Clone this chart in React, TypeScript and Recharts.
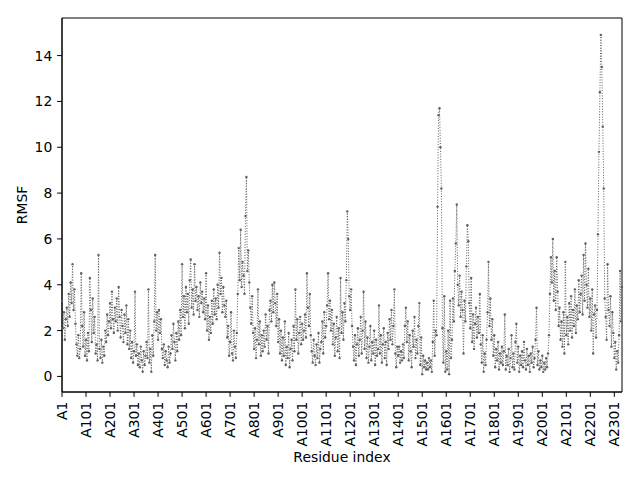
import { LineChart, Line, XAxis, YAxis, Label, ReferenceArea } from "recharts";

// one RMSF value every 4 residues
const residueStep = 4;

const rmsf = [
  3.3, 2.1, 2.8, 1.6, 2.5, 3.0, 2.2, 3.6, 2.6, 4.1,
  3.2, 4.9, 2.9, 3.8, 2.3, 1.4, 0.9, 1.8, 0.8, 1.2,
  4.5, 2.2, 1.3, 2.8, 0.9, 1.6, 0.7, 1.9, 1.1, 4.3,
  2.9, 1.5, 3.4, 1.9, 2.6, 1.0, 1.4, 0.7, 5.3, 1.2,
  0.8, 1.6, 0.6, 1.3, 0.9, 2.0, 1.5, 2.7, 1.8, 2.4,
  3.2, 2.1, 3.7, 2.5, 1.9, 3.0, 2.4, 3.4, 2.0, 3.9,
  2.6, 1.7, 2.9, 2.2, 1.5, 2.7, 1.9, 3.1, 1.4, 2.5,
  1.2, 2.0, 0.8, 1.5, 0.6, 1.1, 3.7, 0.9, 1.4, 0.5,
  1.0, 0.4, 1.3, 0.7, 0.2, 1.1, 0.5, 0.9, 1.5, 0.8,
  3.8, 0.6, 1.2, 0.2, 1.8, 0.9, 2.4, 5.3, 2.0, 2.8,
  1.6, 2.9, 1.9, 2.5, 1.2, 0.8, 1.4, 0.5, 1.1, 0.7,
  0.4, 1.3, 0.6, 1.0, 1.8, 1.2, 2.3, 1.5, 0.7, 1.9,
  1.1, 2.4, 1.6, 2.9, 1.8, 4.9, 2.6, 3.5, 2.1, 3.9,
  2.8, 3.6, 2.3, 4.2, 5.1, 3.0, 3.8, 2.7, 4.9, 3.3,
  3.9, 2.9, 3.5, 2.6, 4.1, 3.2, 3.7, 2.8, 3.4, 2.5,
  4.5, 2.0, 3.1, 1.6, 2.6, 1.9, 3.3, 2.3, 3.8, 2.7,
  3.4, 2.5, 4.0, 3.0, 5.4, 3.6, 4.3, 2.8, 3.9, 3.1,
  2.6, 3.3, 1.7, 2.2, 0.9, 1.5, 2.8, 1.0, 0.7, 2.0,
  1.3, 0.8, 1.9, 3.6, 5.6, 4.2, 6.4, 3.9, 5.0, 4.4,
  3.6, 7.0, 8.7, 4.6, 5.5, 4.1, 3.0, 2.3, 3.5, 1.9,
  1.2, 2.1, 0.8, 1.6, 3.8, 1.4, 2.4, 0.9, 1.8, 1.1,
  2.0, 1.3, 2.7, 1.6, 2.2, 1.0, 2.9, 3.3, 2.4, 4.0,
  2.8, 4.1, 3.2, 2.2, 3.6, 1.5, 2.5, 1.0, 2.0, 0.7,
  1.7, 0.9, 2.4, 0.5, 1.3, 0.8, 1.9, 0.4, 1.2, 1.6,
  0.7, 2.2, 1.1, 3.8, 1.6, 2.5, 1.0, 1.9, 2.6, 1.4,
  2.3, 1.6, 2.0, 2.7, 1.7, 4.5, 3.0, 2.2, 3.6, 1.8,
  1.1, 0.6, 1.6, 0.9, 0.5, 1.4, 0.8, 1.9, 0.6, 1.2,
  1.5, 2.4, 1.0, 2.8, 1.7, 2.2, 3.1, 4.5, 2.5, 3.3,
  2.0, 2.9, 1.4, 2.3, 0.9, 1.7, 2.6, 1.1, 2.1, 0.8,
  4.3, 1.9, 2.8, 1.6, 3.2, 2.4, 4.2, 7.2, 6.0, 3.5,
  2.9, 3.8, 2.2, 1.3, 0.7, 1.8, 0.5, 1.4, 2.1, 0.9,
  1.6, 2.6, 1.0, 2.0, 3.7, 1.2, 2.4, 0.8, 1.7, 0.6,
  1.3, 2.2, 0.7, 1.5, 1.0, 2.0, 0.5, 1.6, 0.9, 1.2,
  3.1, 1.0, 1.8, 0.6, 1.4, 2.1, 0.8, 1.5, 0.5, 1.9,
  1.2, 2.5, 1.6, 2.9, 1.4, 2.2, 3.8, 1.0, 0.4, 1.3,
  0.9, 1.3, 0.6, 1.1, 0.7, 1.4, 0.8, 2.2, 3.0, 1.5,
  2.4, 0.7, 1.8, 1.1, 0.4, 2.0, 1.3, 2.6, 0.8, 1.6,
  1.0, 2.2, 3.2, 0.5, 1.7, 0.1, 0.9, 0.4, 0.7, 0.3,
  0.6, 0.3, 0.8, 0.4, 0.7, 0.2, 1.5, 3.3, 0.9, 2.0,
  1.8, 7.4, 11.4, 11.7, 10.0, 8.2, 2.1, 0.6, 3.5, 0.2,
  1.1, 0.3, 2.0, 0.1, 3.3, 0.8, 1.6, 3.4, 2.4, 4.6,
  5.8, 7.5, 4.0, 3.1, 4.4, 2.6, 3.7, 2.9, 1.0, 3.3,
  2.4, 4.8, 6.6, 5.9, 3.2, 2.1, 4.3, 1.5, 2.7, 1.2,
  2.3, 3.0, 1.7, 2.6, 1.9, 3.6, 1.4, 0.6, 1.8, 0.2,
  1.0, 0.5, 1.6, 2.8, 5.0, 2.2, 3.4, 1.6, 2.5, 0.9,
  1.8, 0.4, 1.2, 0.7, 1.5, 0.3, 1.0, 0.6, 1.3, 0.5,
  1.1, 2.7, 0.3, 0.9, 0.5, 1.2, 0.2, 0.8, 1.8, 0.4,
  1.0, 0.3, 1.5, 2.3, 0.6, 1.3, 0.2, 0.9, 0.5, 1.1,
  0.4, 1.5, 0.7, 0.3, 1.2, 0.5, 0.9, 0.2, 1.0, 0.6,
  1.3, 0.4, 0.8, 1.6, 3.0, 0.5, 1.1, 0.3, 0.7, 0.4,
  0.9, 0.2, 0.6, 0.3, 0.8, 0.4, 1.0, 1.8, 3.6, 5.2,
  4.1, 6.0, 3.3, 4.6, 2.9, 5.2, 3.7, 2.2, 3.0, 1.6,
  2.4, 1.3, 2.8, 1.0, 5.0, 1.8, 2.6, 1.4, 3.2, 2.0,
  3.5, 1.7, 2.9, 2.2, 3.8, 1.9, 3.1, 2.5, 4.2, 2.8,
  3.6, 4.4, 2.7, 5.3, 3.3, 5.8, 4.0, 3.0, 4.7, 2.6,
  3.4, 2.0, 3.8, 1.0, 2.7, 3.1, 1.7, 2.9, 6.2, 9.8,
  12.4, 14.9, 13.5, 10.9, 8.2, 3.4, 2.6, 1.6, 4.9, 2.9,
  2.2, 3.5, 1.3, 2.8, 1.9, 0.8, 1.5, 0.3, 1.1, 0.6,
  1.8, 4.6, 2.4, 3.9,
];

const residueTicks = [
  1, 101, 201, 301, 401, 501, 601, 701, 801, 901, 1001, 1101,
  1201, 1301, 1401, 1501, 1601, 1701, 1801, 1901, 2001, 2101, 2201, 2301,
];
const rmsfTicks = [0, 2, 4, 6, 8, 10, 12, 14];

const data = rmsf.map((v, i) => ({ residue: 1 + i * residueStep, rmsf: v }));
const lastResidue = 1 + (rmsf.length - 1) * residueStep;
const yDomain: [number, number] = [-0.68, 15.64];

const font = "'DejaVu Sans', sans-serif";
const fontSize = 13.9;

function ResidueTick({ x, y, payload }: any) {
  return (
    <text
      x={x}
      y={y}
      transform={`rotate(-90, ${x}, ${y})`}
      textAnchor="end"
      dominantBaseline="central"
      fontSize={fontSize}
      fontFamily={font}
      fill="#000"
    >
      {`A${payload.value}`}
    </text>
  );
}

export default function App() {
  return (
    <div style={{ position: "absolute", left: 0, top: 0, width: 640, height: 480, background: "#fff" }}>
      <LineChart width={640} height={480} data={data} margin={{ top: 18, right: 18, left: 0, bottom: 0 }}>
        <XAxis
          dataKey="residue"
          type="number"
          domain={[1, lastResidue]}
          ticks={residueTicks}
          interval={0}
          height={88}
          tick={<ResidueTick />}
          tickSize={4.86}
          tickMargin={4.86}
          tickLine={{ stroke: "#000" }}
          axisLine={{ stroke: "#000" }}
        >
          <Label
            content={() => (
              <text x={342} y={457} textAnchor="middle" dominantBaseline="central" fontSize={fontSize} fontFamily={font} fill="#000">
                Residue index
              </text>
            )}
          />
        </XAxis>
        <YAxis
          type="number"
          domain={yDomain}
          ticks={rmsfTicks}
          width={62}
          tick={{ fontSize, fontFamily: font, fill: "#000" }}
          tickSize={4.86}
          tickMargin={4.86}
          tickLine={{ stroke: "#000" }}
          axisLine={{ stroke: "#000" }}
        >
          <Label
            content={() => (
              <text
                x={22}
                y={205}
                transform="rotate(-90, 22, 205)"
                textAnchor="middle"
                dominantBaseline="central"
                fontSize={fontSize}
                fontFamily={font}
                fill="#000"
              >
                RMSF
              </text>
            )}
          />
        </YAxis>
        {/* axes frame (top and right spines) */}
        <ReferenceArea
          x1={1}
          x2={lastResidue}
          y1={yDomain[0]}
          y2={yDomain[1]}
          fill="none"
          fillOpacity={0}
          stroke="#000"
          strokeWidth={1}
          strokeOpacity={1}
        />
        <Line
          dataKey="rmsf"
          type="linear"
          stroke="#606060"
          strokeWidth={1}
          strokeDasharray="1 1.65"
          dot={{ r: 1.2, fill: "#606060", stroke: "none" }}
          isAnimationActive={false}
        />
      </LineChart>
    </div>
  );
}
